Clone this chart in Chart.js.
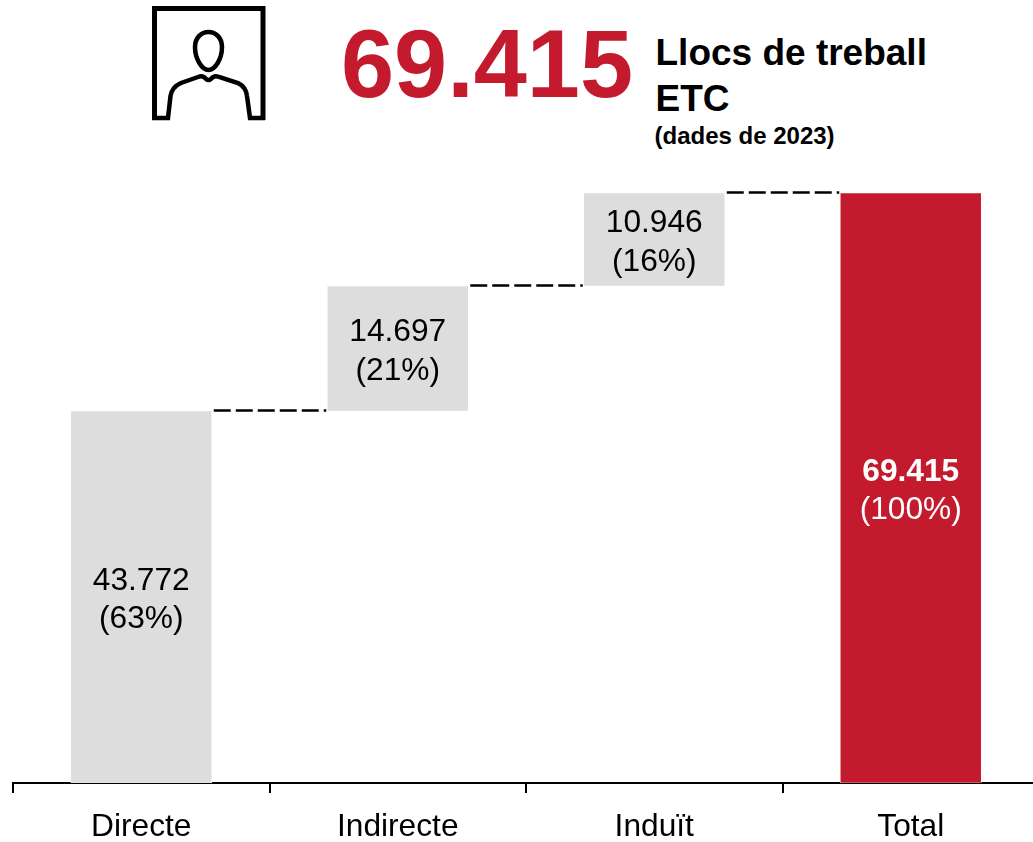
<!DOCTYPE html>
<html lang="ca">
<head>
<meta charset="utf-8">
<title>Llocs de treball ETC</title>
<script src="https://cdn.jsdelivr.net/npm/chart.js@4"></script>
<style>
  html, body { margin: 0; padding: 0; background: #fff; overflow: hidden; }
  body { width: 1033px; height: 842px; position: relative; font-family: "Liberation Sans", Arial, sans-serif; }
  #acquisitions { position: absolute; left: 0; top: 0; }
  .head { position: absolute; white-space: nowrap; font-weight: bold; color: #000; }
  #big { left: 341px; top: 10px; font-size: 95.5px; line-height: 108px; color: #C41A2D; }
  #line1 { left: 655.5px; top: 32px; font-size: 37px; line-height: 42px; }
  #line2 { left: 655.5px; top: 78px; font-size: 37px; line-height: 42px; }
  #line3 { left: 654.5px; top: 122px; font-size: 24px; line-height: 28px; }
  #icon { position: absolute; left: 0; top: 0; }
</style>
</head>
<body>
<svg id="icon" width="300" height="130" fill="none" stroke="#000" stroke-width="4.500">
  <path stroke-width="5" d="M154.500 120V8.500H263V120"/>
  <path d="M152 118H168L170.500 96Q172 87 181 83L198 77Q203 75 206 79Q208.500 81 211 79Q214 75 219 77L238 83Q246 87 247 96L250 118H265"/>
  <path d="M208.500 32C216 32 222 38 222 47C222 59 215 70 208.500 70C202 70 195 59 195 47C195 38 201 32 208.500 32Z"/>
</svg>
<div class="head" id="big">69.415</div>
<div class="head" id="line1">Llocs de treball</div>
<div class="head" id="line2">ETC</div>
<div class="head" id="line3">(dades de 2023)</div>
<canvas id="acquisitions" width="1039" height="842"></canvas>
<script>
const categories = ['Directe', 'Indirecte', 'Induït', 'Total'];
const starts = [0, 43772, 58469, 0];
const values = [43772, 14697, 10946, 69415];
const percents = ['(63%)', '(21%)', '(16%)', '(100%)'];
const colors = ['#DDDDDD', '#DDDDDD', '#DDDDDD', '#C41A2D'];

const fmt = v => String(v).replace(/\B(?=(\d{3})+$)/g, '.');

// labels inside the bars and the dashed connectors between them
const waterfallExtras = {
  id: 'waterfallExtras',
  afterDatasetsDraw(chart) {
    const ctx = chart.ctx;
    const bars = chart.getDatasetMeta(0).data;
    const y = chart.scales.y;

    ctx.save();
    ctx.strokeStyle = '#000';
    ctx.lineWidth = 2.4;
    ctx.setLineDash([17, 5]);
    for (let i = 0; i < bars.length - 1; i++) {
      const top = y.getPixelForValue(starts[i] + values[i]) - 0.5;
      ctx.beginPath();
      ctx.moveTo(bars[i].x + bars[i].width / 2 + 2, top);
      ctx.lineTo(bars[i + 1].x - bars[i + 1].width / 2 - 1, top);
      ctx.stroke();
    }
    ctx.setLineDash([]);

    ctx.textAlign = 'center';
    ctx.textBaseline = 'middle';
    bars.forEach((bar, i) => {
      const mid = (y.getPixelForValue(starts[i]) + y.getPixelForValue(starts[i] + values[i])) / 2;
      const isTotal = i === bars.length - 1;
      ctx.fillStyle = isTotal ? '#fff' : '#000';
      ctx.font = (isTotal ? 'bold ' : '') + '31.7px "Liberation Sans", Arial, sans-serif';
      ctx.fillText(fmt(values[i]), bar.x, mid - 16);
      ctx.font = '31.7px "Liberation Sans", Arial, sans-serif';
      ctx.fillText(percents[i], bar.x, mid + 22.5);
    });
    ctx.restore();
  }
};

new Chart(document.getElementById('acquisitions'), {
  type: 'bar',
  data: {
    labels: categories,
    datasets: [{
      data: values.map((v, i) => [starts[i], starts[i] + v]),
      backgroundColor: colors,
      borderColor: '#fff',
      borderWidth: 0.6,
      borderSkipped: false,
      barThickness: 141,
    }]
  },
  options: {
    responsive: false,
    animation: false,
    layout: { padding: { left: 13, top: 193, right: 0, bottom: 0 } },
    scales: {
      x: {
        afterFit: scale => { scale.height = 59; },
        grid: { drawOnChartArea: false, drawTicks: true, tickLength: 10, color: '#000', lineWidth: 2 },
        border: { color: '#000', width: 2 },
        ticks: {
          color: '#000',
          padding: 15,
          maxRotation: 0,
          font: { family: '"Liberation Sans", Arial, sans-serif', size: 31.7 }
        }
      },
      y: { display: false, min: 0, max: 69415 }
    },
    plugins: {
      legend: { display: false },
      tooltip: { enabled: false }
    }
  },
  plugins: [waterfallExtras]
});
</script>
</body>
</html>
